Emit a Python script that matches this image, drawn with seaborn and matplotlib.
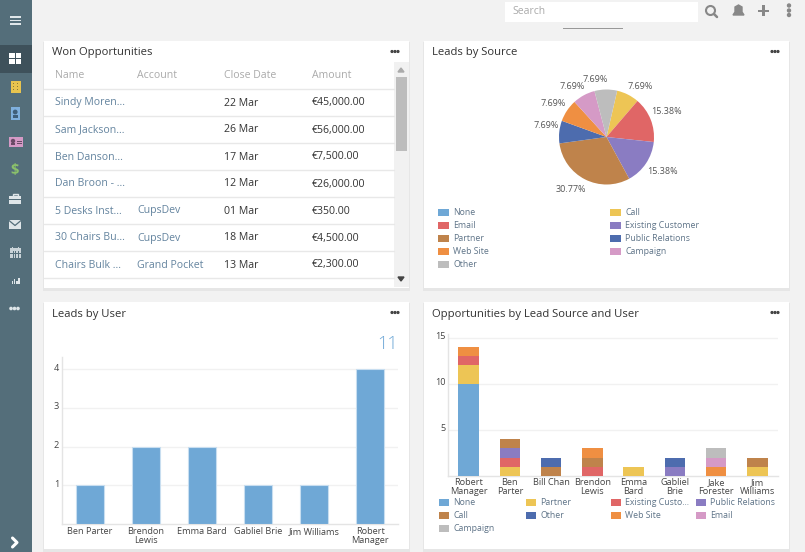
import matplotlib
matplotlib.use("Agg")
import matplotlib.pyplot as plt
from matplotlib.patches import Rectangle, Circle, Polygon
from matplotlib.transforms import ScaledTranslation
import numpy as np
import seaborn as sns

sns.set_theme(style="white")
plt.rcParams['font.family'] = ['Open Sans', 'DejaVu Sans']

# table data
table_cols = ['Name', 'Account', 'Close Date', 'Amount']
names = ['Sindy Moren...', 'Sam Jackson...', 'Ben Danson...', 'Dan Broon - ...',
         '5 Desks Inst...', '30 Chairs Bu...', 'Chairs Bulk ...']
accounts = ['', '', '', '', 'CupsDev', 'CupsDev', 'Grand Pocket']
dates = ['22 Mar', '26 Mar', '17 Mar', '12 Mar', '01 Mar', '18 Mar', '13 Mar']
amounts = ['€45,000.00', '€56,000.00', '€7,500.00', '€26,000.00', '€350.00', '€4,500.00', '€2,300.00']

# pie data
sources = ['None', 'Call', 'Email', 'Existing Customer', 'Partner', 'Public Relations',
           'Web Site', 'Campaign', 'Other']
source_counts = [0, 1, 2, 2, 4, 1, 1, 1, 1]
source_colors = ['#6fa8d6', '#edc555', '#e06666', '#8a7cc2', '#bf834b', '#4d6cae',
                 '#ef8f42', '#d59ac6', '#bdbdbd']

# leads by user
lead_users = ['Ben Parter', 'Brendon\nLewis', 'Emma Bard', 'Gabliel Brie', 'Jim Williams', 'Robert\nManager']
lead_counts = [1, 2, 2, 1, 1, 4]

# opportunities by lead source and user
opp_users = ['Robert\nManager', 'Ben\nParter', 'Bill Chan', 'Brendon\nLewis', 'Emma\nBard',
             'Gabliel\nBrie', 'Jake\nForester', 'Jim\nWilliams']
opp_none = [10, 0, 0, 0, 0, 0, 0, 0]
opp_partner = [2, 1, 0, 0, 1, 0, 0, 1]
opp_existing = [1, 1, 0, 1, 0, 0, 0, 0]
opp_public = [0, 1, 0, 0, 0, 1, 0, 0]
opp_call = [0, 1, 1, 1, 0, 0, 0, 1]
opp_other = [0, 0, 1, 0, 0, 1, 0, 0]
opp_web = [1, 0, 0, 1, 0, 0, 1, 0]
opp_email = [0, 0, 0, 0, 0, 0, 1, 0]
opp_campaign = [0, 0, 0, 0, 0, 0, 1, 0]
opp_series = [opp_none, opp_partner, opp_existing, opp_public, opp_call, opp_other,
              opp_web, opp_email, opp_campaign]
opp_labels = ['None', 'Partner', 'Existing Custo...', 'Public Relations', 'Call', 'Other',
              'Web Site', 'Email', 'Campaign']
opp_colors = ['#6fa8d6', '#edc555', '#e06666', '#8a7cc2', '#bf834b', '#4d6cae',
              '#ef8f42', '#d59ac6', '#bdbdbd']

W, H = 805, 552
fig = plt.figure(figsize=(W / 100, H / 100), dpi=100, facecolor='#f2f2f2')


def px_axes(left, top, right, bottom):
    return fig.add_axes([left / W, 1 - bottom / H, (right - left) / W, (bottom - top) / H])


# page layer in pixel coordinates
bg = fig.add_axes([0, 0, 1, 1], zorder=0)
bg.set_xlim(0, W)
bg.set_ylim(H, 0)
bg.axis('off')


def box(x, y, w, h, c, **kw):
    bg.add_patch(Rectangle((x, y), w, h, facecolor=c, edgecolor='none', **kw))


# sidebar
side = '#546e7a'
box(0, 0, 32, H, side)
box(0, 45, 32, 28, '#3e515b')
for y in [17, 20.5, 24]:
    box(10, y - 0.7, 11, 1.6, '#dfe6e9')
box(9, 53, 12, 11, 'white')
box(14.6, 53, 0.9, 11, '#3e515b')
box(9, 58, 12, 0.9, '#3e515b')
# building
box(10.5, 80.5, 10, 12.5, '#e8c44f')
for yy in [83, 86, 89]:
    for xx in [13, 16.5]:
        box(xx, yy, 1.4, 1.4, '#8a7a3a')
# badge
box(10.5, 107, 9.5, 12.5, '#7fb0de')
bg.add_patch(Circle((15.2, 112), 1.7, color='#3f5f7a'))
box(12.5, 115, 5.5, 2.5, '#3f5f7a')
# contact card
box(9, 137, 14, 10, '#d59ac6')
bg.add_patch(Circle((13, 141), 1.5, color='#6a4a66'))
box(10.8, 143, 4.5, 2, '#6a4a66')
box(17, 140.5, 4.5, 1, '#6a4a66')
box(17, 143, 4.5, 1, '#6a4a66')
bg.text(15, 170, '$', color='#8bc16b', fontsize=10.5, fontweight='bold', ha='center', va='center')
# briefcase
box(9, 195.5, 12, 8, '#dfe6e9')
bg.add_patch(Rectangle((12.5, 193.5), 5, 2.5, fill=False, edgecolor='#dfe6e9', lw=1))
box(9, 198.8, 12, 0.8, side)
# envelope
box(9, 220, 12, 9, '#dfe6e9')
bg.plot([9, 15, 21], [220.5, 225.5, 220.5], color=side, lw=0.9)
# calendar
box(10, 248, 11, 10, '#c9d3d8')
for yy in [250.5, 253, 255.5]:
    box(10, yy, 11, 0.7, side)
for xx in [12.8, 15.3, 17.8]:
    box(xx, 250.5, 0.7, 7.5, side)
box(12, 246.5, 1, 2.5, '#c9d3d8')
box(18, 246.5, 1, 2.5, '#c9d3d8')
# bar chart icon
for i, bh in enumerate([3, 5, 3, 6]):
    box(11.5 + i * 2.3, 283.5 - bh, 1.5, bh, '#dfe6e9')
box(9.5, 276, 0.9, 8, '#dfe6e9')
box(9.5, 283.5, 12, 0.9, '#dfe6e9')
for x in [11, 14.5, 18]:
    bg.add_patch(Circle((x, 308.5), 1.1, color='#dfe6e9'))
bg.plot([12.5, 17, 12.5], [538, 542.5, 547], color='white', lw=2.2)

# top bar
box(505, 2, 193, 20, 'white')
bg.text(512, 12, 'Search', color='#aaaaaa', fontsize=7.5, va='center')
bg.add_patch(Circle((710.5, 10.5), 4.5, fill=False, edgecolor='#888888', lw=1.5))
bg.plot([714, 717], [14, 17], color='#888888', lw=1.8)
bg.add_patch(Polygon([[733, 15], [744, 15], [742, 12], [742, 7], [738.5, 5], [735, 7], [735, 12]], color='#888888'))
box(758, 9.5, 11, 2.2, '#888888')
box(762.4, 5, 2.2, 11, '#888888')
for y in [5.5, 10.5, 15]:
    bg.add_patch(Circle((789, y), 1.5, color='#888888'))
box(563, 28, 60, 1, '#999999')

# panels
panels = [(44, 41, 365, 247, 'Won Opportunities'), (424, 41, 365, 247, 'Leads by Source'),
          (44, 302, 365, 247, 'Leads by User'), (424, 302, 365, 247, 'Opportunities by Lead Source and User')]
for x, y, w, h, title in panels:
    box(x - 1, y + 1, w + 2, h + 1.5, '#e6e6e6')
    box(x, y, w, h, 'white')
    bg.text(x + 8, y + 12, title, color='#333333', fontsize=8.1, va='center')
    for dx in [348, 351, 354]:
        bg.add_patch(Circle((x + dx, y + 10.5), 0.9, color='#444444'))

# table
col_x = [55, 137, 224, 312]
for x, c in zip(col_x, table_cols):
    bg.text(x, 76, c, color='#aaaaaa', fontsize=7.6, va='center')
bg.plot([44, 394], [88.5, 88.5], color='#e8e8e8', lw=1)
for i in range(len(names)):
    yc = 102 + 27 * i
    bg.text(col_x[0], yc + 1, names[i], color='#64849f', fontsize=7.6, va='center')
    bg.text(col_x[1], yc + 1, accounts[i], color='#64849f', fontsize=7.6, va='center')
    bg.text(col_x[2], yc + 1, dates[i], color='#333333', fontsize=7.6, va='center')
    bg.text(col_x[3], yc + 1, amounts[i], color='#333333', fontsize=7.6, va='center')
    bg.plot([44, 394], [yc + 13.5, yc + 13.5], color='#e8e8e8', lw=1)
box(394, 62, 15, 225, '#f1f1f1')
box(396, 77, 11, 74, '#bdbdbd')
bg.add_patch(Polygon([[398, 72], [404, 72], [401, 68]], color='#aaaaaa'))
bg.add_patch(Polygon([[398, 277], [404, 277], [401, 281]], color='#444444'))

# pie
keep = [i for i, v in enumerate(source_counts) if v > 0]
pie_ax = px_axes(549, 79.5, 664, 194.5)
pie_ax.set_zorder(1)
pie_ax.patch.set_alpha(0)
wedges, _, pct = pie_ax.pie([source_counts[i] for i in keep], colors=[source_colors[i] for i in keep],
                            startangle=77, counterclock=False, radius=1,
                            autopct='%.2f%%', pctdistance=1.32,
                            wedgeprops={'linewidth': 0}, textprops={'fontsize': 6.5, 'color': '#555555'})
pie_ax.set_xlim(-57.5 / 47.5, 57.5 / 47.5)
pie_ax.set_ylim(-57.5 / 47.5, 57.5 / 47.5)
# nudge the percent labels, pixels right/down
nudges = [(5, 5), (2, -2), (4, 0), (-7, -3), (2, -5), (-1, 1), (-4, 5), (-10, 5)]
for t, (dx, dy) in zip(pct, nudges):
    px, py = t.get_position()
    t.set_position((px + dx / 47.5, py - dy / 47.5))
for i, name in enumerate(sources):
    row, col = i // 2, i % 2
    x0 = [438, 610][col]
    y0 = 212.5 + 13 * row
    box(x0, y0 - 3.5, 11, 7, source_colors[i])
    bg.text(x0 + 15, y0 + 0.3, name, color='#5f7488', fontsize=6.3, va='center')

# leads by user
ax1 = px_axes(62, 357, 398, 524)
ax1.set_zorder(1)
ax1.patch.set_alpha(0)
sns.barplot(x=lead_users, y=lead_counts, color='#6fa8d6', saturation=1, width=0.5,
            edgecolor='#c8def0', linewidth=0.8, ax=ax1, zorder=3)
ax1.set_ylim(0, 4.31)
ax1.set_yticks([1, 2, 3, 4])
ax1.tick_params(axis='both', length=0, labelsize=6.6, labelcolor='#444444', pad=2)
ax1.yaxis.grid(True, color='#f1f1f1', lw=1)
ax1.set_axisbelow(True)

# opportunities stacked bars
ax2 = px_axes(448, 334, 778, 476)
ax2.set_zorder(1)
ax2.patch.set_alpha(0)
bottom = np.zeros(len(opp_users))
for vals, c in zip(opp_series, opp_colors):
    sns.barplot(x=opp_users, y=vals, bottom=bottom, color=c, saturation=1, width=0.5,
                linewidth=0, ax=ax2, zorder=3)
    bottom = bottom + np.array(vals)
ax2.set_ylim(0, 15.4)
ax2.set_yticks([5, 10, 15])
ax2.tick_params(axis='both', length=0, labelsize=6.6, labelcolor='#444444', pad=1.5)
ax2.yaxis.grid(True, color='#f1f1f1', lw=1)
ax2.set_axisbelow(True)

# y labels sit a little above their grid lines
for ax in [ax1, ax2]:
    for lab in ax.get_xticklabels():
        lab.set_linespacing(1.0)
    for lab in ax.get_yticklabels():
        lab.set_transform(lab.get_transform() + ScaledTranslation(0, 2 / 100, fig.dpi_scale_trans))
    sns.despine(ax=ax)
    for s in ['left', 'bottom']:
        ax.spines[s].set_color('#e4e4e4')
        ax.spines[s].set_linewidth(1)
bg.text(398, 344, str(sum(lead_counts)), color='#6fa8d6', fontsize=13, ha='right', va='center', fontweight='light')

for i, (name, c) in enumerate(zip(opp_labels, opp_colors)):
    row, col = i // 4, i % 4
    x0 = [439, 526, 611, 696][col]
    y0 = 502 + 13 * row
    box(x0, y0 - 3.5, 10, 7.5, c)
    bg.text(x0 + 14, y0 + 0.2, name, color='#5f7488', fontsize=6.3, va='center')

fig.savefig('out.png', dpi=100)
